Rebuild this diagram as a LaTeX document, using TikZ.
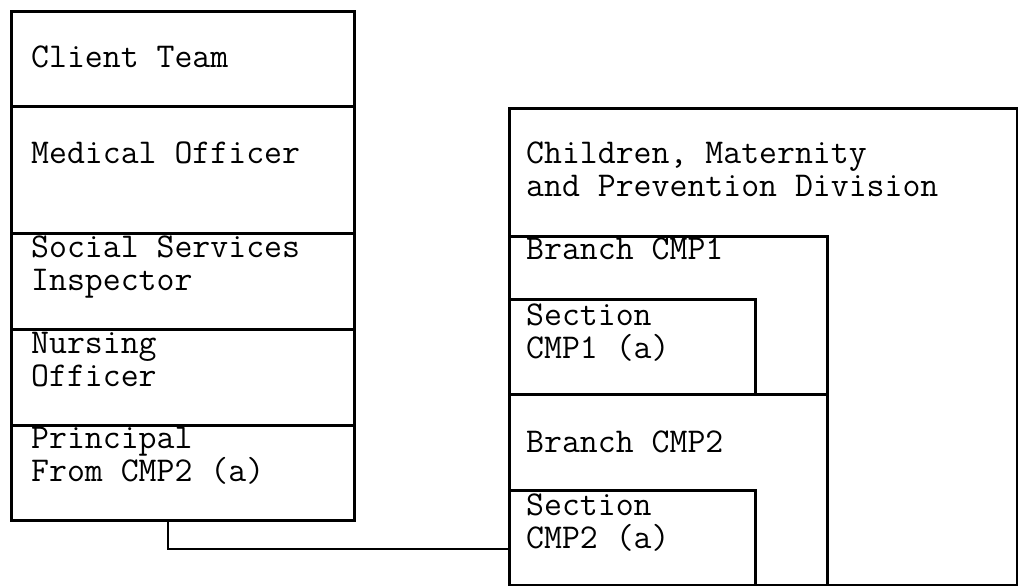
\documentclass[tikz,border=0pt]{standalone}
\usepackage{fontspec}
\begin{document}
\begin{tikzpicture}[x=1pt,y=-1pt,
  cell/.style={draw, line width=2.7pt, inner sep=0pt, anchor=north west},
  label/.style={anchor=base west, inner sep=0pt, align=left,
    font=\ttfamily\fontsize{34.8}{33}\selectfont\addfontfeatures{FakeBold=0.6}}]
\useasboundingbox (0,0) rectangle (1018,586);

% left column: the client team
\node[cell, minimum width=343, minimum height=95]  (client)    at (10,10)  {};
\node[cell, minimum width=343, minimum height=127] (medical)   at (10,105) {};
\node[cell, minimum width=343, minimum height=96]  (social)    at (10,232) {};
\node[cell, minimum width=343, minimum height=96]  (nursing)   at (10,328) {};
\node[cell, minimum width=343, minimum height=95]  (principal) at (10,424) {};

% labels are anchored on the baseline of their last line
\node[label] (tclient)    at (31,67)  {Client Team};
\node[label] (tmedical)   at (31,163) {Medical Officer};
\node[label] (tsocial)    at (31,290) {Social Services\\Inspector};
\node[label] (tnursing)   at (31,386) {Nursing\\Officer};
\node[label] (tprincipal) at (31,481) {Principal\\From CMP2 (a)};

% right block: the division with its branches and sections
\node[cell, minimum width=508, minimum height=477] (division) at (508,107) {};
\node[cell, minimum width=318, minimum height=158] (branch1)  at (508,235) {};
\node[cell, minimum width=246, minimum height=95]  (section1) at (508,298) {};
\node[cell, minimum width=318, minimum height=191] (branch2)  at (508,393) {};
\node[cell, minimum width=246, minimum height=95]  (section2) at (508,489) {};

\node[label] (tdivision) at (526,196) {Children, Maternity\\and Prevention Division};
\node[label] (tbranch1)  at (526,259) {Branch CMP1};
\node[label] (tsection1) at (526,358) {Section\\CMP1 (a)};
\node[label] (tbranch2)  at (526,452) {Branch CMP2};
\node[label] (tsection2) at (526,548) {Section\\CMP2 (a)};

% link from the principal to section CMP2 (a)
\coordinate (linkstart) at (principal.south west -| 168,0);
\coordinate (linkend)   at (section2.west |- 0,549);
\draw[line width=2.7pt] (linkstart) |- (linkend);
\end{tikzpicture}
\end{document}
